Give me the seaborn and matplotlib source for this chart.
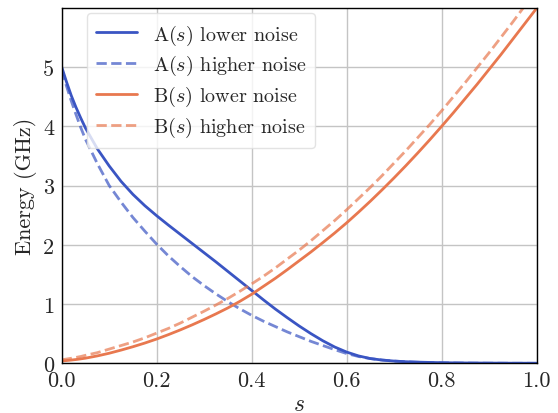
import matplotlib
matplotlib.use("Agg")
import matplotlib.pyplot as plt
import seaborn as sns
import pandas as pd

s = [0.0, 0.01, 0.02, 0.03, 0.04, 0.05, 0.075, 0.1, 0.125, 0.15, 0.175, 0.2,
     0.225, 0.25, 0.275, 0.3, 0.325, 0.35, 0.375, 0.4, 0.425, 0.45, 0.475, 0.5,
     0.525, 0.55, 0.575, 0.6, 0.625, 0.65, 0.675, 0.7, 0.725, 0.75, 0.775, 0.8,
     0.825, 0.85, 0.875, 0.9, 0.925, 0.95, 0.975, 1.0]

A_lower = [5.0, 4.75, 4.52, 4.32, 4.14, 3.97, 3.62, 3.33, 3.07, 2.85, 2.66, 2.49,
           2.33, 2.175, 2.02, 1.865, 1.71, 1.55, 1.39, 1.23, 1.07, 0.915, 0.77, 0.63,
           0.50, 0.38, 0.275, 0.19, 0.125, 0.08, 0.055, 0.038, 0.027, 0.02, 0.015, 0.011,
           0.008, 0.006, 0.005, 0.004, 0.003, 0.002, 0.002, 0.001]

A_higher = [4.95, 4.68, 4.43, 4.20, 3.98, 3.78, 3.37, 3.00, 2.72, 2.46, 2.23, 2.01,
            1.81, 1.63, 1.46, 1.31, 1.17, 1.04, 0.92, 0.81, 0.71, 0.62, 0.53, 0.45,
            0.37, 0.30, 0.23, 0.165, 0.115, 0.08, 0.055, 0.038, 0.026, 0.018, 0.012, 0.008,
            0.006, 0.004, 0.003, 0.002, 0.002, 0.001, 0.001, 0.001]

B_lower = [0.04, 0.047, 0.055, 0.064, 0.075, 0.087, 0.125, 0.17, 0.223, 0.28, 0.342, 0.41,
           0.485, 0.565, 0.65, 0.74, 0.835, 0.935, 1.045, 1.165, 1.30, 1.435, 1.58, 1.73,
           1.88, 2.038, 2.20, 2.37, 2.55, 2.736, 2.93, 3.13, 3.337, 3.551, 3.771, 3.998,
           4.23, 4.47, 4.71, 4.96, 5.21, 5.47, 5.73, 5.99]

B_higher = [0.06, 0.072, 0.085, 0.10, 0.115, 0.135, 0.18, 0.24, 0.30, 0.36, 0.43, 0.51,
            0.59, 0.68, 0.78, 0.88, 0.985, 1.095, 1.215, 1.34, 1.47, 1.61, 1.76, 1.91,
            2.07, 2.24, 2.41, 2.59, 2.78, 2.97, 3.17, 3.38, 3.59, 3.81, 4.03, 4.26,
            4.50, 4.74, 4.99, 5.24, 5.50, 5.76, 6.03, 6.30]

labels = [r"A($s$) lower noise", r"A($s$) higher noise",
          r"B($s$) lower noise", r"B($s$) higher noise"]
x_ticks = [0.0, 0.2, 0.4, 0.6, 0.8, 1.0]
y_ticks = [0, 1, 2, 3, 4, 5]

sns.set_style("white")
plt.rcParams.update({
    "font.family": ["cmr10", "DejaVu Serif"],
    "mathtext.fontset": "cm",
    "axes.formatter.use_mathtext": True,
    "axes.unicode_minus": False,
})

blue = "#3a55c3"
orange = "#e8784f"

fig = plt.figure(figsize=(5.58, 4.14), dpi=100)
ax = fig.add_axes([0.1106, 0.12, 0.851, 0.8575])

df = pd.DataFrame({"s": s, "Al": A_lower, "Ah": A_higher, "Bl": B_lower, "Bh": B_higher})

sns.lineplot(data=df, x="s", y="Al", ax=ax, color=blue, lw=2, label=labels[0])
sns.lineplot(data=df, x="s", y="Ah", ax=ax, color=blue, lw=2, alpha=0.7,
             linestyle=(0, (3.7, 1.6)), label=labels[1])
sns.lineplot(data=df, x="s", y="Bl", ax=ax, color=orange, lw=2, label=labels[2])
sns.lineplot(data=df, x="s", y="Bh", ax=ax, color=orange, lw=2, alpha=0.7,
             linestyle=(0, (3.7, 1.6)), label=labels[3])

ax.set_xlim(0, 1)
ax.set_ylim(0, 5.99)
ax.set_xticks(x_ticks)
ax.set_yticks(y_ticks)
ax.set_xticklabels([f"{v:.1f}" for v in x_ticks])
ax.set_yticklabels([str(v) for v in y_ticks])
ax.tick_params(labelsize=16, length=3.5, width=0.8, direction="out", pad=2)
ax.grid(True, color="#c4c4c4", lw=1)
ax.set_axisbelow(True)
for sp in ax.spines.values():
    sp.set_color("black")
    sp.set_linewidth(1)

ax.set_xlabel(r"$s$", fontsize=17, labelpad=2)
ax.set_ylabel("Energy (GHz)", fontsize=16, labelpad=4)

leg = ax.legend(loc="upper left", bbox_to_anchor=(0.043, 1.0), fontsize=14.5,
                frameon=True, framealpha=0.8, edgecolor="#dddddd",
                borderaxespad=0.25, handlelength=2.0, labelspacing=0.33,
                borderpad=0.45)

fig.savefig("out.png", dpi=100)
